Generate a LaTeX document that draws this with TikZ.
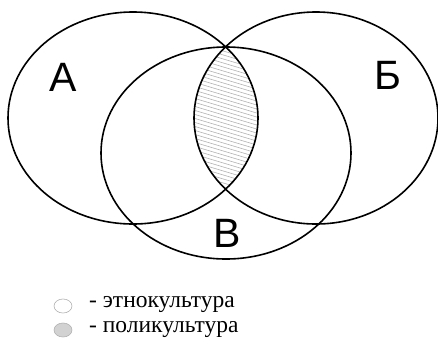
\documentclass[tikz,border=0pt]{standalone}
\usepackage{fontspec}
\setmainfont{Liberation Serif}
\newfontfamily\setlettersf{Liberation Sans}
\usepackage{tikz}
\colorlet{hatchgray}{gray!60}
\colorlet{lensgray}{gray!35}
\tikzset{
  setline/.style={line width=1.6pt},
  setname/.style={font=\setlettersf\fontsize{41}{41}\selectfont, inner sep=0pt},
  legendtext/.style={font=\fontsize{23.5}{23.5}\selectfont, anchor=west, inner sep=0pt}
}

\begin{document}
\begin{tikzpicture}[x=1pt,y=-1pt]

      \useasboundingbox (0,0) rectangle (438,346);
      \fill [white] (0,0) rectangle (438,346);

      % shaded lens (A and B)
      \begin{scope}
        \clip (133,118) ellipse [x radius=125, y radius=106];
        \clip (316,118) ellipse [x radius=122, y radius=106];
        \foreach \y in {-30,-26,...,220}
          \draw [hatchgray,line width=0.6pt] (180,\y) -- (280,\y+30);
      \end{scope}

      \draw [setline] (133,118) ellipse [x radius=125, y radius=106];
      \draw [setline] (316,118) ellipse [x radius=122, y radius=106];
      \draw [setline] (226,153) ellipse [x radius=125, y radius=106];

      \node [setname] (nameA) at (63,77) {А};
      \node [setname] (nameB) at (388,75) {Б};
      \node [setname] (nameV) at (227,233) {В};

      % legend
      \draw [gray!60,line width=0.6pt] (63,306) ellipse [x radius=9, y radius=7];
      \node [legendtext] (ethno) at (89,304.5) {- этнокультура};
      \draw [gray!60,line width=0.6pt,fill=lensgray] (63,330) ellipse [x radius=9, y radius=7];
      \node [legendtext] (poly) at (89,329.5) {- поликультура};

    \end{tikzpicture}
\end{document}
